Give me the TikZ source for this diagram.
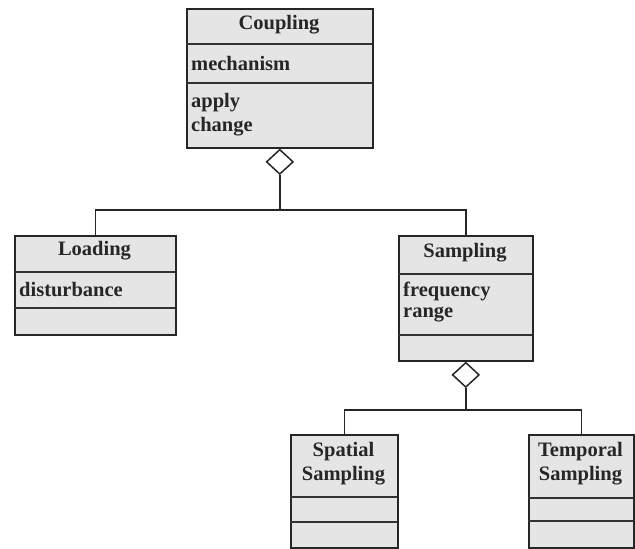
\documentclass[tikz,border=0pt]{standalone}
\usepackage{fontspec}
\setmainfont{Liberation Serif}
\usetikzlibrary{shapes.geometric}
\tikzset{
  cls/.style={draw=black!85, line width=1.6pt, fill=black!10, anchor=north west, inner sep=0pt},
  sep/.style={draw=black!80, line width=1.3pt},
  conn/.style={draw=black!85, line width=1.6pt},
  agg/.style={diamond, draw=black!85, line width=1.5pt, fill=white, minimum width=27pt, minimum height=25pt, inner sep=0pt},
  lbl/.style={font=\fontsize{20.5}{24}\selectfont\bfseries, text=black!85, inner sep=0pt},
}
\begin{document}
\begin{tikzpicture}[x=1pt,y=-1pt]
\useasboundingbox (0,0) rectangle (635,549);
% Coupling
\node[cls, minimum width=186pt, minimum height=139pt] (coupling) at (186,8) {};
\draw[sep] (186,44) -- (372,44);
\draw[sep] (186,83) -- (372,83);
\node[lbl] (couplingT) at (279,25) {Coupling};
\node[lbl, anchor=west] (couplingA) at (191,63) {mechanism};
\node[lbl, anchor=west] (couplingO1) at (191,103) {apply};
\node[lbl, anchor=west] (couplingO2) at (191,127) {change};
% Loading
\node[cls, minimum width=161pt, minimum height=99pt] (loading) at (14,235) {};
\draw[sep] (14,272) -- (175,272);
\draw[sep] (14,308) -- (175,308);
\node[lbl] (loadingT) at (94.5,251) {Loading};
\node[lbl, anchor=west] (loadingA) at (19,290) {disturbance};
% Sampling
\node[cls, minimum width=134pt, minimum height=125pt] (sampling) at (398,235) {};
\draw[sep] (398,274) -- (532,274);
\draw[sep] (398,335) -- (532,335);
\node[lbl] (samplingT) at (465,253) {Sampling};
\node[lbl, anchor=west] (samplingA1) at (403,291) {frequency};
\node[lbl, anchor=west] (samplingA2) at (403,314) {range};
% Spatial Sampling
\node[cls, minimum width=107pt, minimum height=113pt] (spatial) at (290,434) {};
\draw[sep] (290,497) -- (397,497);
\draw[sep] (290,522) -- (397,522);
\node[lbl, align=center] (spatialT) at (343.5,464) {Spatial\\Sampling};
% Temporal Sampling
\node[cls, minimum width=105pt, minimum height=113pt] (temporal) at (528,434) {};
\draw[sep] (528,498) -- (633,498);
\draw[sep] (528,521) -- (633,521);
\node[lbl, align=center] (temporalT) at (580.5,464) {Temporal\\Sampling};
% Aggregation diamonds
\node[agg, anchor=north] (d1) at (coupling.south) {};
\node[agg, anchor=north] (d2) at (sampling.south) {};
% Connectors
\coordinate (j1) at (d1.south |- 0,210);
\draw[conn] (d1.south) -- (j1);
\draw[conn] (j1) -| (loading.north);
\draw[conn] (j1) -| (sampling.north);
\coordinate (j2) at (d2.south |- 0,410);
\draw[conn] (d2.south) -- (j2);
\draw[conn] (j2) -| (spatial.north);
\draw[conn] (j2) -| (temporal.north);
\end{tikzpicture}
\end{document}
